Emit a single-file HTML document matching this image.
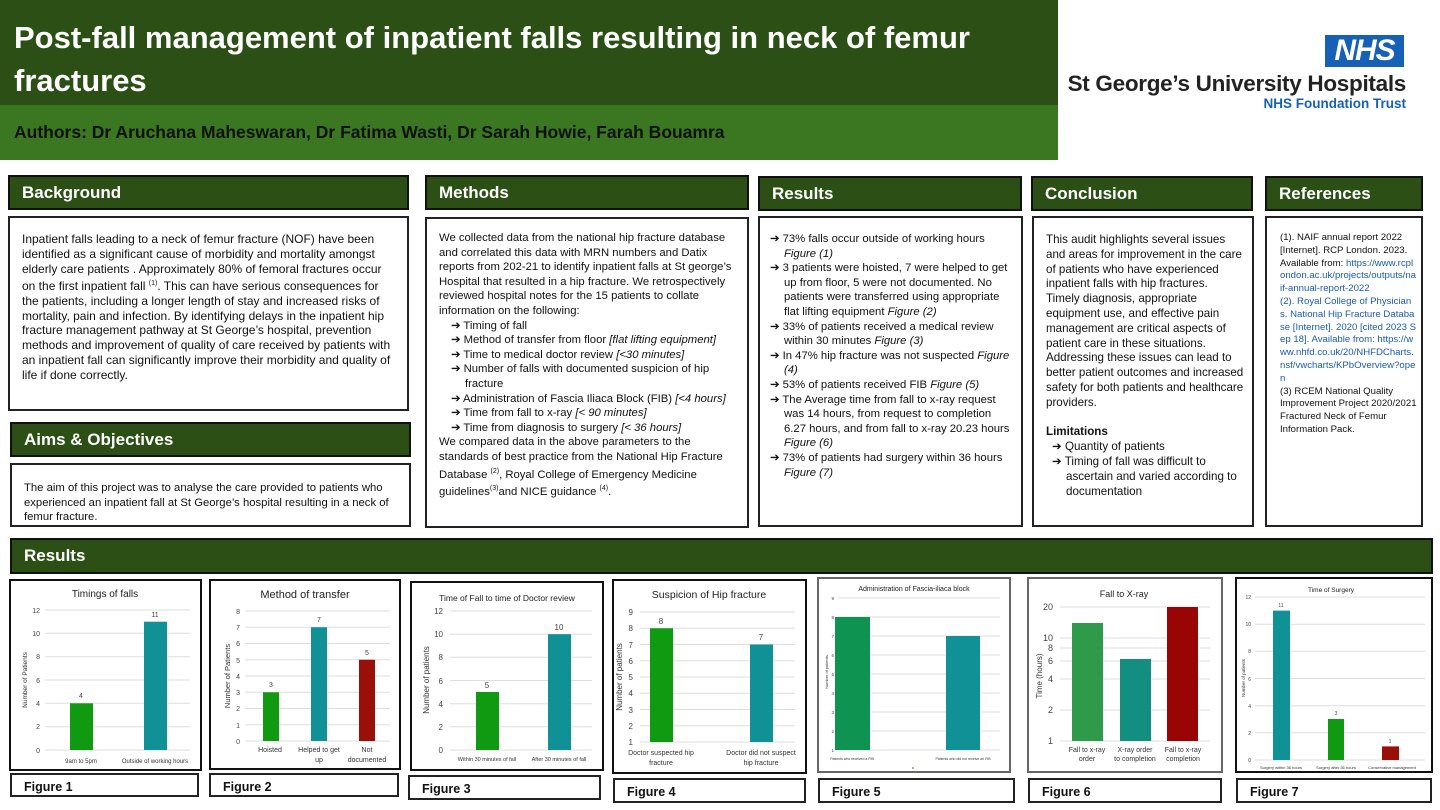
<!DOCTYPE html>
<html><head><meta charset="utf-8"><style>
*{margin:0;padding:0;box-sizing:border-box}
body{width:1440px;height:810px;position:relative;background:#fff;font-family:"Liberation Sans",Arial,sans-serif;overflow:hidden;color:#111}
.a{position:absolute}
.hd{position:absolute;background:#2c4f16;border:2px solid #111;color:#fff;font-weight:bold;font-size:17px;padding:6px 0 0 12px}
.bx{position:absolute;border:2px solid #222;font-size:11.3px;line-height:14.6px;padding:12px 10px 0 12px;overflow:hidden}
.fl{position:absolute;border:2px solid #222;font-weight:bold;font-size:12.5px;padding:5px 0 0 12px}
ul{list-style:none}
li{padding-left:20px;text-indent:-14px}
li:before{content:"➔ ";}
a{color:#1a5bb0;word-break:break-all}
</style></head><body>
<div class="a" style="left:0;top:0;width:1058px;height:105px;background:#2b4f15"></div>
<div class="a" style="left:0;top:105px;width:1058px;height:55px;background:#3a7720"></div>
<div class="a" style="left:14px;top:16px;width:1000px;color:#fff;font-weight:bold;font-size:31px;line-height:43px">Post-fall management of inpatient falls resulting in neck of femur fractures</div>
<div class="a" style="left:14px;top:122px;color:#111;font-weight:bold;font-size:17.5px">Authors: Dr Aruchana Maheswaran, Dr Fatima Wasti, Dr Sarah Howie, Farah Bouamra</div>
<div class="a" style="left:1325px;top:35px;width:79px;height:32px;background:#1660b5;color:#fff;font-weight:bold;font-style:italic;font-size:30px;line-height:32px;text-align:center;letter-spacing:-1px">NHS</div>
<div class="a" style="left:1060px;top:71px;width:346px;text-align:right;font-weight:bold;font-size:22.5px;color:#222;letter-spacing:-0.3px">St George’s University Hospitals</div>
<div class="a" style="left:1100px;top:96px;width:306px;text-align:right;font-weight:bold;font-size:13.5px;color:#1660b5">NHS Foundation Trust</div>

<div class="hd" style="left:8px;top:175px;width:401px;height:35px">Background</div>
<div class="hd" style="left:425px;top:175px;width:324px;height:35px">Methods</div>
<div class="hd" style="left:758px;top:176px;width:264px;height:35px">Results</div>
<div class="hd" style="left:1031px;top:176px;width:222px;height:35px">Conclusion</div>
<div class="hd" style="left:1265px;top:176px;width:158px;height:35px">References</div>

<div class="bx" style="left:8px;top:216px;width:401px;height:195px;padding-top:14px;font-size:12px;line-height:14.9px">Inpatient falls leading to a neck of femur fracture (NOF) have been identified as a significant cause of morbidity and mortality amongst elderly care patients . Approximately 80% of femoral fractures occur on the first inpatient fall <sup style="font-size:7px">(1)</sup>. This can have serious consequences for the patients, including a longer length of stay and increased risks of mortality, pain and infection. By identifying delays in the inpatient hip fracture management pathway at St George’s hospital, prevention methods and improvement of quality of care received by patients with an inpatient fall can significantly improve their morbidity and quality of life if done correctly.</div>

<div class="hd" style="left:10px;top:422px;width:401px;height:35px">Aims &amp; Objectives</div>
<div class="bx" style="left:10px;top:463px;width:401px;height:64px;padding-top:16px">The aim of this project was to analyse the care provided to patients who experienced an inpatient fall at St George’s hospital resulting in a neck of femur fracture.</div>

<div class="bx" style="left:425px;top:217px;width:324px;height:311px">We collected data from the national hip fracture database and correlated this data with MRN numbers and Datix reports from 202-21 to identify inpatient falls at St george’s Hospital that resulted in a hip fracture. We retrospectively reviewed hospital notes for the 15 patients to collate information on the following:
<ul style="padding-left:6px"><li>Timing of fall</li><li>Method of transfer from floor <i>[flat lifting equipment]</i></li><li>Time to medical doctor review <i>[&lt;30 minutes]</i></li><li>Number of falls with documented suspicion of hip fracture</li><li>Administration of Fascia Iliaca Block (FIB) <i>[&lt;4 hours]</i></li><li>Time from fall to x-ray <i>[&lt; 90 minutes]</i></li><li>Time from diagnosis to surgery <i>[&lt; 36 hours]</i></li></ul>
We compared data in the above parameters to the standards of best practice from the National Hip Fracture Database <sup style="font-size:7px">(2)</sup>, Royal College of Emergency Medicine guidelines<sup style="font-size:7px">(3)</sup>and NICE guidance <sup style="font-size:7px">(4)</sup>.</div>

<div class="bx" style="left:758px;top:216px;width:265px;height:311px;padding:14px 6px 0 4px"><ul><li>73% falls occur outside of working hours <i>Figure (1)</i></li><li>3 patients were hoisted, 7 were helped to get up from floor, 5 were not documented. No patients were transferred using appropriate flat lifting equipment <i>Figure (2)</i></li><li>33% of patients received a medical review within 30 minutes <i>Figure (3)</i></li><li>In 47% hip fracture was not suspected <i>Figure (4)</i></li><li>53% of patients received FIB <i>Figure (5)</i></li><li>The Average time from fall to x-ray request was 14 hours, from request to completion 6.27 hours, and from fall to x-ray 20.23 hours <i>Figure (6)</i></li><li>73% of patients had surgery within 36 hours <i>Figure (7)</i></li></ul></div>

<div class="bx" style="left:1032px;top:216px;width:222px;height:311px;padding:15px 8px 0 12px;font-size:11.6px;line-height:14.8px">This audit highlights several issues and areas for improvement in the care of patients who have experienced inpatient falls with hip fractures. Timely diagnosis, appropriate equipment use, and effective pain management are critical aspects of patient care in these situations. Addressing these issues can lead to better patient outcomes and increased safety for both patients and healthcare providers.<br><br><b>Limitations</b><ul><li>Quantity of patients</li><li>Timing of fall was difficult to ascertain and varied according to documentation</li></ul></div>

<div class="bx" style="left:1265px;top:216px;width:158px;height:311px;padding:14px 4px 0 13px;font-size:9.6px;line-height:12.8px">(1). NAIF annual report 2022 [Internet]. RCP London. 2023. Available from: <a>https://www.rcplondon.ac.uk/projects/outputs/naif-annual-report-2022</a><br><a>(2). Royal College of Physicians. National Hip Fracture Database [Internet]. 2020 [cited 2023 Sep 18]. Available from: https://www.nhfd.co.uk/20/NHFDCharts.nsf/vwcharts/KPbOverview?open</a><br>(3) RCEM National Quality Improvement Project 2020/2021 Fractured Neck of Femur Information Pack.</div>

<div class="hd" style="left:10px;top:538px;width:1423px;height:36px">Results</div>

<div class="fl" style="left:10px;top:773px;width:189px;height:24px">Figure 1</div>
<div class="fl" style="left:209px;top:773px;width:190px;height:24px">Figure 2</div>
<div class="fl" style="left:408px;top:775px;width:193px;height:25px">Figure 3</div>
<div class="fl" style="left:613px;top:778px;width:193px;height:25px">Figure 4</div>
<div class="fl" style="left:818px;top:778px;width:197px;height:25px">Figure 5</div>
<div class="fl" style="left:1028px;top:778px;width:194px;height:25px">Figure 6</div>
<div class="fl" style="left:1236px;top:778px;width:196px;height:25px">Figure 7</div>

<svg class="a" style="left:0;top:0" width="1440" height="810" font-family="Liberation Sans,Arial,sans-serif" fill="#333">
<g fill="none" stroke="#111" stroke-width="2">
<rect x="10" y="580" width="191" height="190"/><rect x="210" y="580" width="190" height="189"/><rect x="411" y="582" width="192" height="188"/>
<rect x="613" y="580" width="193" height="193"/><rect x="818" y="578" width="192" height="194" stroke="#666"/><rect x="1028" y="578" width="194" height="194" stroke="#666"/><rect x="1236" y="578" width="196" height="194"/>
</g>
<g stroke="#ddd" stroke-width="1">
<path d="M45 750H190M45 726.7H190M45 703.3H190M45 680H190M45 656.7H190M45 633.3H190M45 610H190"/>
<path d="M245 741H390M245 724.75H390M245 708.5H390M245 692.25H390M245 676H390M245 659.75H390M245 643.5H390M245 627.25H390M245 611H390"/>
<path d="M450 750H592M450 726.8H592M450 703.7H592M450 680.5H592M450 657.3H592M450 634.2H592M450 611H592"/>
<path d="M640 742H795M640 725.75H795M640 709.5H795M640 693.25H795M640 677H795M640 660.75H795M640 644.5H795M640 628.25H795M640 612H795"/>
<path d="M838 750H1000M838 731H1000M838 712H1000M838 693H1000M838 674H1000M838 655H1000M838 636H1000M838 617H1000M838 598H1000"/>
<path d="M1060 741H1210M1060 710H1210M1060 679H1210M1060 661H1210M1060 648H1210M1060 638H1210M1060 607H1210"/>
<path d="M1255 760H1425M1255 732.8H1425M1255 705.7H1425M1255 678.5H1425M1255 651.3H1425M1255 624.2H1425M1255 597H1425"/>
</g>
<rect x="70" y="703.3" width="23" height="46.7" fill="#109a12"/><rect x="144" y="621.7" width="23" height="128.3" fill="#0f9196"/>
<rect x="263" y="692.25" width="16" height="48.75" fill="#109a12"/><rect x="311" y="627.25" width="16" height="113.75" fill="#0f9196"/><rect x="359" y="659.75" width="16" height="81.25" fill="#9a1008"/>
<rect x="476" y="692" width="23" height="58" fill="#109a12"/><rect x="548" y="634.2" width="23" height="115.8" fill="#0f9196"/>
<rect x="650" y="628.25" width="23" height="113.75" fill="#109a12"/><rect x="750" y="644.5" width="23" height="97.5" fill="#0f9196"/>
<rect x="835" y="617" width="35" height="133" fill="#0f9350"/><rect x="946" y="636" width="34" height="114" fill="#0f9196"/>
<rect x="1072" y="623" width="31" height="118" fill="#2f9a4a"/><rect x="1120" y="659" width="31" height="82" fill="#138f82"/><rect x="1167" y="607" width="31" height="134" fill="#990404"/>
<rect x="1273" y="610.6" width="17" height="149.4" fill="#0f9196"/><rect x="1328" y="719" width="16" height="41" fill="#109a12"/><rect x="1382" y="746.4" width="17" height="13.6" fill="#9a1008"/>
<g text-anchor="middle" fill="#222">
<text x="105" y="597" font-size="10">Timings of falls</text>
<text x="305" y="598" font-size="11">Method of transfer</text>
<text x="507" y="601" font-size="8.5">Time of Fall to time of Doctor review</text>
<text x="709" y="598" font-size="10.5">Suspicion of Hip fracture</text>
<text x="914" y="591" font-size="7">Administration of Fascia-iliaca block</text>
<text x="1124" y="597" font-size="9">Fall to X-ray</text>
<text x="1331" y="592" font-size="6.5">Time of Surgery</text>
</g>
<g font-size="7" text-anchor="end" fill="#444">
<text x="40" y="753">0</text><text x="40" y="729">2</text><text x="40" y="706">4</text><text x="40" y="683">6</text><text x="40" y="659">8</text><text x="40" y="636">10</text><text x="40" y="613">12</text>
<text x="240" y="744">0</text><text x="240" y="728">1</text><text x="240" y="711">2</text><text x="240" y="695">3</text><text x="240" y="679">4</text><text x="240" y="663">5</text><text x="240" y="646">6</text><text x="240" y="630">7</text><text x="240" y="614">8</text>
<text x="443" y="753" font-size="8">0</text><text x="443" y="730" font-size="8">2</text><text x="443" y="707" font-size="8">4</text><text x="443" y="684" font-size="8">6</text><text x="443" y="660" font-size="8">8</text><text x="443" y="637" font-size="8">10</text><text x="443" y="614" font-size="8">12</text>
<text x="633" y="745" font-size="8">1</text><text x="633" y="729" font-size="8">2</text><text x="633" y="713" font-size="8">3</text><text x="633" y="696" font-size="8">4</text><text x="633" y="680" font-size="8">5</text><text x="633" y="664" font-size="8">6</text><text x="633" y="648" font-size="8">7</text><text x="633" y="631" font-size="8">8</text><text x="633" y="615" font-size="8">9</text>
<g font-size="4.5"><text x="834" y="752">1</text><text x="834" y="733">2</text><text x="834" y="714">3</text><text x="834" y="695">4</text><text x="834" y="676">5</text><text x="834" y="657">6</text><text x="834" y="638">7</text><text x="834" y="619">8</text><text x="834" y="600">9</text></g>
<g font-size="9"><text x="1053" y="744">1</text><text x="1053" y="713">2</text><text x="1053" y="682">4</text><text x="1053" y="664">6</text><text x="1053" y="651">8</text><text x="1053" y="641">10</text><text x="1053" y="610">20</text></g>
<g font-size="5"><text x="1251" y="762">0</text><text x="1251" y="735">2</text><text x="1251" y="708">4</text><text x="1251" y="681">6</text><text x="1251" y="653">8</text><text x="1251" y="626">10</text><text x="1251" y="599">12</text></g>
</g>
<g text-anchor="middle" fill="#444">
<text x="81" y="698" font-size="7">4</text><text x="155" y="617" font-size="7">11</text>
<text x="271" y="687" font-size="7">3</text><text x="319" y="622" font-size="7">7</text><text x="367" y="655" font-size="7">5</text>
<text x="487" y="688" font-size="8">5</text><text x="559" y="630" font-size="8">10</text>
<text x="661" y="624" font-size="8">8</text><text x="761" y="640" font-size="8">7</text>
<text x="1281" y="607" font-size="5">11</text><text x="1336" y="715" font-size="5">3</text><text x="1390" y="743" font-size="5">1</text>
</g>
<g text-anchor="middle" fill="#333">
<text x="81" y="763" font-size="6">9am to 5pm</text><text x="155" y="763" font-size="6">Outside of working hours</text>
<text x="270" y="752" font-size="7">Hoisted</text><text x="319" y="752" font-size="7">Helped to get</text><text x="319" y="762" font-size="7">up</text><text x="367" y="752" font-size="7">Not</text><text x="367" y="762" font-size="7">documented</text>
<text x="487" y="761" font-size="5.5">Within 30 minutes of fall</text><text x="559" y="761" font-size="5.5">After 30 minutes of fall</text>
<text x="661" y="755" font-size="7">Doctor suspected hip</text><text x="661" y="765" font-size="7">fracture</text><text x="761" y="755" font-size="7">Doctor did not suspect</text><text x="761" y="765" font-size="7">hip fracture</text>
<text x="852" y="760" font-size="3.5">Patients who received a FIB</text><text x="963" y="760" font-size="3.5">Patients who did not receive an FIB</text>
<text x="1087" y="752" font-size="7">Fall to x-ray</text><text x="1087" y="761" font-size="7">order</text><text x="1135" y="752" font-size="7">X-ray order</text><text x="1135" y="761" font-size="7">to completion</text><text x="1183" y="752" font-size="7">Fall to x-ray</text><text x="1183" y="761" font-size="7">completion</text>
<text x="1281" y="769" font-size="4">Surgery within 36 hours</text><text x="1336" y="769" font-size="4">Surgery after 36 hours</text><text x="1392" y="769" font-size="4">Conservative management</text>
</g>
<g text-anchor="middle" fill="#333">
<text transform="translate(27,680) rotate(-90)" font-size="6.5">Number of Patients</text>
<text transform="translate(230,676) rotate(-90)" font-size="7.5">Number of Patients</text>
<text transform="translate(429,680) rotate(-90)" font-size="8">Number of patients</text>
<text transform="translate(622,677) rotate(-90)" font-size="8">Number of patients</text>
<text transform="translate(828,672) rotate(-90)" font-size="4">Number of patients</text>
<text transform="translate(1042,676) rotate(-90)" font-size="8">Time (hours)</text>
<text transform="translate(1245,678) rotate(-90)" font-size="4.5">Number of patients</text>
</g>
<circle cx="913" cy="768" r="1" fill="#7a4"/>
</svg>
</body></html>
